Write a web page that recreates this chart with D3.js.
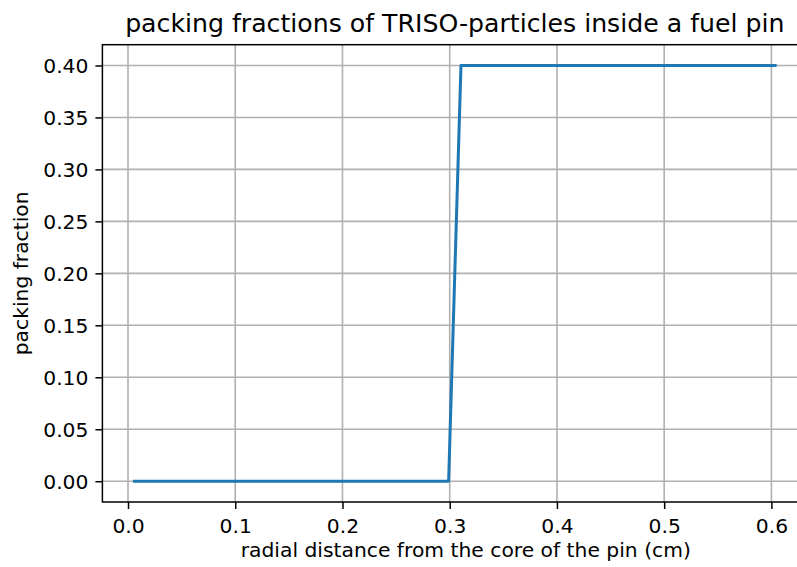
<!DOCTYPE html>
<html>
<head>
<meta charset="utf-8">
<script src="https://cdn.jsdelivr.net/npm/d3@7"></script>
<style>
  html, body { margin: 0; padding: 0; background: #fff; }
  svg { display: block; font-family: "DejaVu Sans", sans-serif; }
</style>
</head>
<body>
<svg id="chart" width="797" height="567"></svg>
<script>
// Radial positions (cm) and packing fraction of TRISO particles in the pin
const radius = [0.006, 0.299, 0.3105, 0.6035];
const packingFraction = [0.0, 0.0, 0.4, 0.4];

const xTicks = [0.0, 0.1, 0.2, 0.3, 0.4, 0.5, 0.6];
const yTicks = [0.00, 0.05, 0.10, 0.15, 0.20, 0.25, 0.30, 0.35, 0.40];

const titleText = "packing fractions of TRISO-particles inside a fuel pin";
const xLabelText = "radial distance from the core of the pin (cm)";
const yLabelText = "packing fraction";

// Plot area (the right edge of the axes runs past the canvas)
const plot = { left: 102.4, right: 807.2, top: 44.7, bottom: 502 };

const svg = d3.select("#chart");

// Axis limits padded by 5% of the data span on each side
function padded(vals) {
  const [lo, hi] = d3.extent(vals);
  const pad = 0.05 * (hi - lo);
  return [lo - pad, hi + pad];
}

const x = d3.scaleLinear().domain(padded(radius)).range([plot.left, plot.right]);
const y = d3.scaleLinear().domain(padded(packingFraction)).range([plot.bottom, plot.top]);

const gridColor = "#b0b0b0";
const fontSize = 20.3;

// Grid
const grid = svg.append("g");
grid.selectAll("line.vx").data(xTicks).join("line")
  .attr("x1", d => x(d)).attr("x2", d => x(d))
  .attr("y1", plot.top).attr("y2", plot.bottom)
  .attr("stroke", gridColor).attr("stroke-width", 1.6);
grid.selectAll("line.hy").data(yTicks).join("line")
  .attr("y1", d => y(d)).attr("y2", d => y(d))
  .attr("x1", plot.left).attr("x2", plot.right)
  .attr("stroke", gridColor).attr("stroke-width", 1.6);

// Data line
const line = d3.line().x((d, i) => x(radius[i])).y(d => y(d));
svg.append("path")
  .datum(packingFraction)
  .attr("d", line)
  .attr("fill", "none")
  .attr("stroke", "#1f77b4")
  .attr("stroke-width", 3)
  .attr("stroke-linecap", "square")
  .attr("stroke-linejoin", "round");

// Axes
const xAxis = d3.axisBottom(x).tickValues(xTicks).tickFormat(d3.format(".1f"))
  .tickSize(7).tickPadding(7);
const yAxis = d3.axisLeft(y).tickValues(yTicks).tickFormat(d3.format(".2f"))
  .tickSize(7).tickPadding(7);

const gx = svg.append("g").attr("transform", `translate(0,${plot.bottom})`).call(xAxis);
const gy = svg.append("g").attr("transform", `translate(${plot.left},0)`).call(yAxis);

[gx, gy].forEach(g => {
  g.select(".domain").remove();
  g.selectAll(".tick line").attr("stroke", "#000").attr("stroke-width", 1.5);
  g.selectAll(".tick text")
    .attr("fill", "#000")
    .attr("font-size", fontSize)
    .attr("font-family", "DejaVu Sans, sans-serif");
});
gx.selectAll(".tick text").attr("dy", null).attr("y", 30.5);
gy.selectAll(".tick text").attr("dy", null).attr("dominant-baseline", "central");

// Frame
svg.append("rect")
  .attr("x", plot.left).attr("y", plot.top)
  .attr("width", plot.right - plot.left).attr("height", plot.bottom - plot.top)
  .attr("fill", "none").attr("stroke", "#000").attr("stroke-width", 1.5);

const cx = (plot.left + plot.right) / 2;

// Title
svg.append("text")
  .attr("x", cx).attr("y", 32)
  .attr("text-anchor", "middle")
  .attr("font-size", 25.2)
  .text(titleText);

// Axis labels
svg.append("text")
  .attr("x", cx + 11).attr("y", 557)
  .attr("text-anchor", "middle")
  .attr("font-size", fontSize)
  .text(xLabelText);

svg.append("text")
  .attr("transform", `translate(28,${(plot.top + plot.bottom) / 2}) rotate(-90)`)
  .attr("text-anchor", "middle")
  .attr("font-size", fontSize)
  .text(yLabelText);
</script>
</body>
</html>
